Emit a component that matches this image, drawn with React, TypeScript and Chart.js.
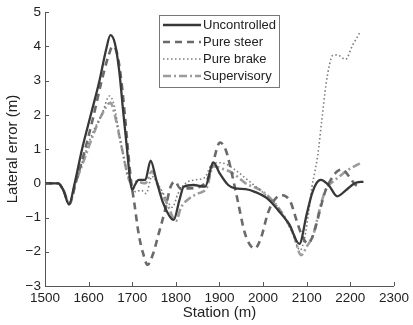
import React, { useEffect, useRef } from "react";
import { Chart, registerables } from "chart.js";

Chart.register(...registerables);

const xTicks = [1500, 1600, 1700, 1800, 1900, 2000, 2100, 2200, 2300];
const yTicks = [-3, -2, -1, 0, 1, 2, 3, 4, 5];

const seriesNames = ["Uncontrolled", "Pure steer", "Pure brake", "Supervisory"];

const uncontrolledStation = [1500, 1530, 1542, 1555, 1568, 1585, 1605, 1625, 1640, 1650, 1660, 1670, 1680, 1688, 1695, 1700, 1706, 1715, 1730, 1742, 1755, 1770, 1785, 1795, 1808, 1818, 1840, 1867, 1886, 1900, 1920, 1936, 1960, 1981, 2010, 2034, 2060, 2083, 2100, 2112, 2122, 2132, 2150, 2170, 2190, 2210, 2230];
const uncontrolledError = [0, 0, -0.2, -0.62, 0, 1.0, 2.0, 3.0, 3.9, 4.33, 4.1, 3.3, 2.0, 1.0, 0.1, -0.2, -0.05, 0.1, 0.1, 0.66, 0.1, -0.55, -0.95, -1.07, -0.5, -0.1, -0.05, -0.1, 0.61, 0.3, -0.05, -0.15, -0.17, -0.25, -0.45, -0.78, -1.2, -1.77, -0.9, -0.3, 0.0, 0.1, -0.05, -0.38, -0.2, 0.0, 0.05];

const steerStation = [1500, 1530, 1542, 1556, 1570, 1590, 1610, 1630, 1645, 1655, 1665, 1675, 1683, 1690, 1697, 1705, 1715, 1725, 1735, 1748, 1760, 1775, 1788, 1798, 1810, 1830, 1855, 1872, 1885, 1901, 1915, 1928, 1940, 1958, 1970, 1981, 1995, 2011, 2025, 2041, 2052, 2064, 2077, 2090, 2102, 2112, 2122, 2132, 2142, 2155, 2170, 2182, 2197, 2210, 2220];
const steerError = [0, 0, -0.2, -0.6, 0, 0.9, 1.9, 3.0, 3.7, 4.0, 3.8, 3.0, 2.0, 1.0, 0.1, -0.6, -1.5, -2.05, -2.38, -2.05, -1.5, -0.8, -0.1, 0.05, -0.15, -0.15, -0.1, 0.1, 0.6, 1.19, 0.95, 0.3, -0.4, -1.45, -1.8, -1.9, -1.6, -0.87, -0.5, -0.35, -0.38, -0.58, -1.1, -1.55, -1.75, -1.6, -1.2, -0.7, -0.25, 0.1, 0.35, 0.4, 0.2, -0.02, -0.1];

const brakeStation = [1500, 1530, 1542, 1556, 1570, 1590, 1610, 1630, 1648, 1658, 1668, 1678, 1688, 1698, 1708, 1720, 1732, 1745, 1758, 1780, 1792, 1805, 1822, 1845, 1867, 1882, 1900, 1913, 1935, 1966, 2011, 2040, 2065, 2085, 2095, 2105, 2112, 2118, 2125, 2135, 2144, 2152, 2160, 2170, 2189, 2205, 2222];
const brakeError = [0, 0, -0.2, -0.6, 0, 0.8, 1.5, 2.0, 2.55, 2.3, 1.6, 0.9, 0.3, 0.0, -0.25, -0.2, -0.3, 0.2, 0.0, -0.5, -0.7, -0.3, 0.0, 0.1, 0.18, 0.55, 0.6, 0.57, 0.4, 0.08, -0.4, -0.8, -1.4, -1.95, -1.6, -0.8, -0.1, 0.3, 0.8, 1.9, 2.87, 3.45, 3.74, 3.75, 3.62, 4.03, 4.41];

const supervisoryStation = [1500, 1530, 1542, 1556, 1570, 1590, 1610, 1630, 1650, 1660, 1670, 1680, 1690, 1698, 1710, 1730, 1745, 1760, 1780, 1800, 1812, 1830, 1850, 1870, 1886, 1900, 1930, 1960, 2000, 2040, 2070, 2087, 2100, 2115, 2125, 2135, 2145, 2160, 2175, 2190, 2210, 2225];
const supervisoryError = [0, 0, -0.2, -0.6, 0, 0.7, 1.4, 2.0, 2.35, 2.0, 1.4, 0.8, 0.2, 0.0, 0.05, 0.0, 0.35, -0.1, -0.6, -1.1, -0.7, -0.45, -0.3, -0.15, 0.5, 0.45, 0.3, 0.0, -0.25, -0.8, -1.5, -2.1, -1.85, -1.5, -1.0, -0.5, -0.15, 0.05, 0.2, 0.35, 0.5, 0.6];

const zip = (xs: number[], ys: number[]) => xs.map((x, i) => ({ x, y: ys[i] }));

const styles = [
  { color: "#383838", width: 2.3, dash: [] as number[] },
  { color: "#6a6a6a", width: 2.6, dash: [7, 5] },
  { color: "#7c7c7c", width: 1.6, dash: [1.5, 2.5] },
  { color: "#9c9c9c", width: 2.6, dash: [8, 3, 2, 3] },
];

const FONT = "'Liberation Sans', Arial, sans-serif";

const innerTicks = {
  id: "innerTicks",
  afterDraw(chart: any) {
    const ctx = chart.ctx;
    const { left, bottom } = chart.chartArea;
    const xs = chart.scales.x;
    const ys = chart.scales.y;
    ctx.save();
    ctx.strokeStyle = "#555";
    ctx.lineWidth = 1;
    ctx.beginPath();
    xTicks.forEach((t) => {
      const p = Math.round(xs.getPixelForValue(t)) + 0.5;
      ctx.moveTo(p, bottom);
      ctx.lineTo(p, bottom - 4);
    });
    yTicks.forEach((t) => {
      const p = Math.round(ys.getPixelForValue(t)) + 0.5;
      ctx.moveTo(left, p);
      ctx.lineTo(left + 4, p);
    });
    ctx.stroke();

    // legend box
    const bx = 159.5, by = 15.5, bw = 120, bh = 72;
    ctx.fillStyle = "#fff";
    ctx.fillRect(bx, by, bw, bh);
    ctx.strokeStyle = "#777";
    ctx.lineWidth = 1;
    ctx.setLineDash([]);
    ctx.strokeRect(bx, by, bw, bh);
    ctx.font = `13px ${FONT}`;
    ctx.textBaseline = "middle";
    ctx.textAlign = "left";
    seriesNames.forEach((name, i) => {
      const y = 25 + i * 17;
      const s = styles[i];
      ctx.beginPath();
      ctx.strokeStyle = s.color;
      ctx.lineWidth = s.width;
      ctx.setLineDash(s.dash);
      ctx.moveTo(163, y);
      ctx.lineTo(201, y);
      ctx.stroke();
      ctx.setLineDash([]);
      ctx.fillStyle = "#222";
      ctx.fillText(name, 203, y + 0.5);
    });
    ctx.restore();
  },
};

export default function App() {
  const ref = useRef<HTMLCanvasElement>(null);
  useEffect(() => {
    if (!ref.current) return;
    const seriesData = [
      zip(uncontrolledStation, uncontrolledError),
      zip(steerStation, steerError),
      zip(brakeStation, brakeError),
      zip(supervisoryStation, supervisoryError),
    ];
    const chart = new Chart(ref.current, {
      type: "line",
      data: {
        datasets: seriesNames.map((name, i) => ({
          label: name,
          data: seriesData[i],
          borderColor: styles[i].color,
          borderWidth: styles[i].width,
          borderDash: styles[i].dash,
          pointRadius: 0,
          fill: false,
          cubicInterpolationMode: "monotone" as const,
        })),
      },
      options: {
        animation: false,
        responsive: false,
        devicePixelRatio: 1,
        layout: { padding: { top: 9.5, right: 16, left: 0, bottom: 0 } },
        plugins: { legend: { display: false }, tooltip: { enabled: false } },
        scales: {
          x: {
            type: "linear",
            min: 1500,
            max: 2300,
            afterBuildTicks: (s: any) => {
              s.ticks = xTicks.map((v) => ({ value: v }));
            },
            afterFit: (s: any) => {
              s.height = 39;
            },
            grid: { display: false, drawTicks: false },
            border: { display: true, color: "#555", width: 1 },
            ticks: {
              color: "#222",
              font: { size: 13.5, family: FONT },
              padding: 4,
              maxRotation: 0,
              callback: (v: any) => String(v),
            },
            title: { display: true, text: "Station (m)", color: "#222", font: { size: 15, family: FONT }, padding: { top: 0, bottom: 3 } },
          },
          y: {
            type: "linear",
            min: -3,
            max: 5,
            afterBuildTicks: (s: any) => {
              s.ticks = yTicks.map((v) => ({ value: v }));
            },
            afterFit: (s: any) => {
              s.width = 45;
            },
            grid: { display: false, drawTicks: false },
            border: { display: true, color: "#555", width: 1 },
            ticks: {
              color: "#222",
              font: { size: 13.5, family: FONT },
              padding: 4,
              callback: (v: any) => (v < 0 ? "\u2212" + Math.abs(v) : String(v)),
            },
            title: { display: true, text: "Lateral error (m)", color: "#222", font: { size: 15, family: FONT }, padding: { top: 4, bottom: 0 } },
          },
        },
      },
      plugins: [innerTicks],
    });
    return () => chart.destroy();
  }, []);
  return (
    <div style={{ position: "absolute", left: 0, top: 0, width: 413, height: 325, background: "#fff" }}>
      <canvas ref={ref} width={413} height={325} />
    </div>
  );
}
